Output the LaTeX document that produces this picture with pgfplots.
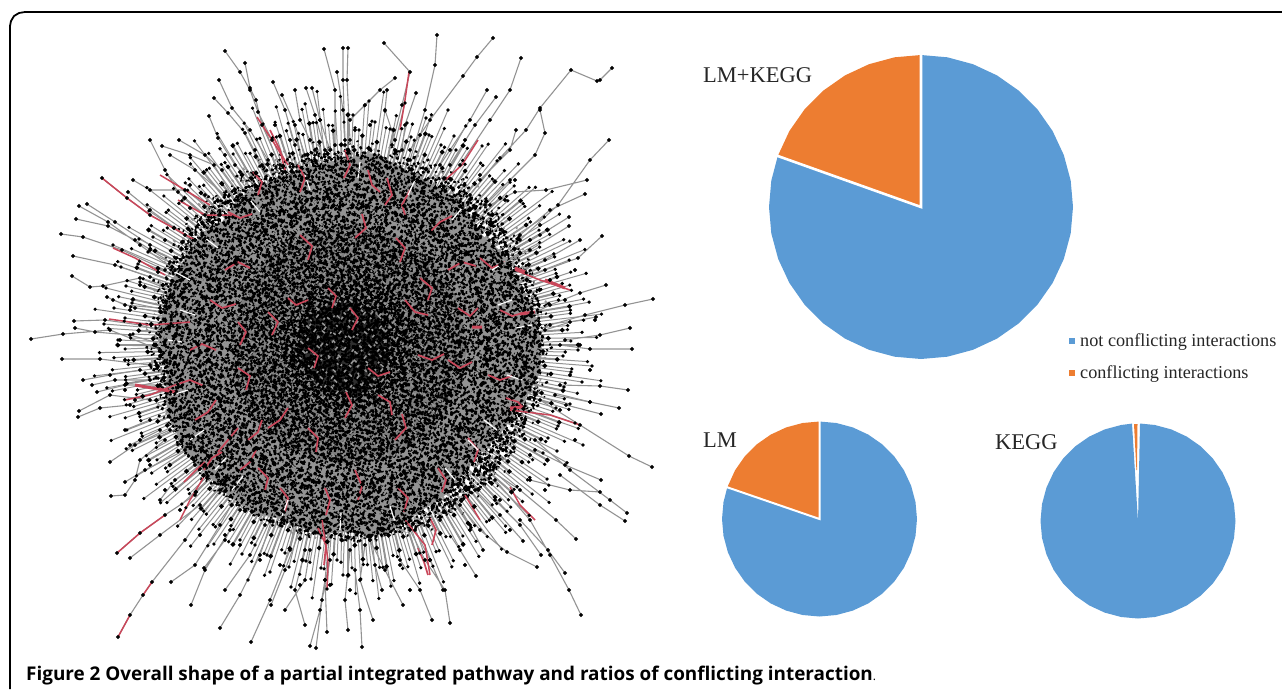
\documentclass[border=0pt]{standalone}
\usepackage{fontspec}
\setmainfont{Liberation Serif}
\newfontfamily\capfont{Open Sans}
\usepackage{pgfplots}
\usepackage{pgfplotstable}
\pgfplotsset{compat=1.18}
\definecolor{pieblue}{HTML}{5B9BD5}
\definecolor{pieorange}{HTML}{ED7D31}
\definecolor{edgegray}{HTML}{939393}
\definecolor{edgered}{HTML}{C9475A}
% one table of short strokes, laid down again turned about the middle of the network
\newcommand\spin[3]{\addplot[#1] table[x expr={348+(\thisrow{x}-348)*cos(#2)-(\thisrow{y}-345)*sin(#2)}, y expr={345+(\thisrow{x}-348)*sin(#2)+(\thisrow{y}-345)*cos(#2)}] {#3};}
\pgfplotsset{
	spike/.style={edgegray, line width=1.9pt, mark=*, mark size=1.2pt, mark options={black, solid}},
	thin spike/.style={edgegray, line width=1pt, mark=*, mark size=1.1pt, mark options={black, solid}}
}
% rows across the whole body
\pgfplotstableread[row sep=\\]{x y\\
287 160\\418 166\\nan nan\\256 172\\434 168\\nan nan\\263 180\\447 175\\nan nan\\236 182\\458 186\\nan nan\\233 188\\468 194\\nan nan\\210 200\\476 196\\nan nan\\224 208\\484 203\\nan nan\\206 210\\491 214\\nan nan\\191 216\\497 222\\nan nan\\201 228\\502 224\\nan nan\\184 236\\508 231\\nan nan\\199 238\\512 242\\nan nan\\170 244\\517 250\\nan nan\\178 256\\521 252\\nan nan\\183 264\\524 259\\nan nan\\164 266\\527 270\\nan nan\\174 272\\530 278\\nan nan\\151 284\\533 280\\nan nan\\174 292\\535 287\\nan nan\\159 294\\537 298\\nan nan\\151 300\\538 306\\nan nan\\162 312\\540 308\\nan nan\\171 320\\541 315\\nan nan\\151 322\\542 326\\nan nan\\163 328\\543 334\\nan nan\\142 340\\543 336\\nan nan\\157 348\\543 343\\nan nan\\162 350\\543 354\\nan nan\\147 356\\543 362\\nan nan\\168 368\\542 364\\nan nan\\153 376\\541 371\\nan nan\\161 378\\540 382\\nan nan\\148 384\\538 390\\nan nan\\171 396\\537 392\\nan nan\\162 404\\535 399\\nan nan\\155 406\\533 410\\nan nan\\173 412\\530 418\\nan nan\\165 424\\527 420\\nan nan\\187 432\\524 427\\nan nan\\166 434\\521 438\\nan nan\\182 440\\517 446\\nan nan\\195 452\\512 448\\nan nan\\183 460\\508 455\\nan nan\\202 462\\502 466\\nan nan\\187 468\\497 474\\nan nan\\218 480\\491 476\\nan nan\\212 488\\484 483\\nan nan\\213 490\\476 494\\nan nan\\234 496\\468 502\\nan nan\\254 508\\458 504\\nan nan\\246 516\\447 511\\nan nan\\272 518\\434 522\\nan nan\\267 524\\418 530\\
}\rowsA
% rows across the inner part
\pgfplotstableread[row sep=\\]{x y\\
314 233\\391 235\\nan nan\\284 240\\406 238\\nan nan\\293 247\\417 249\\nan nan\\268 254\\426 252\\nan nan\\267 261\\434 263\\nan nan\\246 268\\440 266\\nan nan\\263 275\\445 277\\nan nan\\247 282\\450 280\\nan nan\\234 289\\454 291\\nan nan\\245 296\\458 294\\nan nan\\232 303\\460 305\\nan nan\\248 310\\463 308\\nan nan\\222 317\\465 319\\nan nan\\233 324\\466 322\\nan nan\\240 331\\467 333\\nan nan\\223 338\\468 336\\nan nan\\236 345\\468 347\\nan nan\\216 352\\468 350\\nan nan\\242 359\\467 361\\nan nan\\230 366\\466 364\\nan nan\\224 373\\465 375\\nan nan\\239 380\\463 378\\nan nan\\252 387\\460 389\\nan nan\\235 394\\458 392\\nan nan\\252 401\\454 403\\nan nan\\235 408\\450 406\\nan nan\\255 415\\445 417\\nan nan\\265 422\\440 420\\nan nan\\256 429\\434 431\\nan nan\\284 436\\426 434\\nan nan\\277 443\\417 445\\nan nan\\295 450\\406 448\\nan nan\\295 457\\391 459\\
}\rowsB
% rows across the core
\pgfplotstableread[row sep=\\]{x y\\
332 285\\373 286\\nan nan\\307 290\\383 289\\nan nan\\320 295\\390 296\\nan nan\\299 300\\395 299\\nan nan\\302 305\\399 306\\nan nan\\283 310\\403 309\\nan nan\\302 315\\406 316\\nan nan\\289 320\\408 319\\nan nan\\278 325\\410 326\\nan nan\\292 330\\411 329\\nan nan\\280 335\\412 336\\nan nan\\298 340\\413 339\\nan nan\\274 345\\413 346\\nan nan\\286 350\\413 349\\nan nan\\295 355\\412 356\\nan nan\\280 360\\411 359\\nan nan\\294 365\\410 366\\nan nan\\276 370\\408 369\\nan nan\\303 375\\406 376\\nan nan\\293 380\\403 379\\nan nan\\290 385\\399 386\\nan nan\\307 390\\395 389\\nan nan\\322 395\\390 396\\nan nan\\310 400\\383 399\\nan nan\\333 405\\373 406\\
}\rowsC
% spikes of the rim, the thick inner parts
\pgfplotstableread[row sep=\\]{x y\\
488 347\\553 349\\nan nan\\498 353\\538 355\\nan nan\\487.5 357\\530 361\\567 364\\nan nan\\497 363\\546 369\\nan nan\\486 367\\557 378\\nan nan\\495 374\\539 382\\nan nan\\484 376.5\\530 387\\567 396\\nan nan\\493 384\\546 398\\nan nan\\482 386\\532 401\\nan nan\\490 394\\551 415\\nan nan\\479 395\\535 417\\nan nan\\486 404\\525 420\\560 435\\nan nan\\475 404\\525 427\\nan nan\\482 413\\535 440\\nan nan\\470 413\\521 441\\
}\rim
% spikes of the rim, the thin outer parts
\pgfplotstableread[row sep=\\]{x y\\
520 348\\578 350\\nan nan\\520 354\\563 356\\nan nan\\540 362\\592 366\\nan nan\\525 366\\571 372\\nan nan\\525 373\\582 382\\nan nan\\520 378\\564 387\\nan nan\\530 387\\590 402\\nan nan\\525 393\\570 404\\nan nan\\515 396\\556 408\\nan nan\\525 406\\575 423\\nan nan\\515 409\\558 426\\nan nan\\525 420\\583 445\\nan nan\\510 420\\548 438\\nan nan\\515 430\\557 451\\nan nan\\505 433\\543 453\\
}\rimlong
\begin{document}
\begin{tikzpicture}
\useasboundingbox (0,0) rectangle (1282pt,689pt);
\begin{axis}[
	scale only axis, width=1282pt, height=689pt,
	xmin=0, xmax=1282, ymin=0, ymax=689,
	y dir=reverse, hide axis, unbounded coords=jump
]
% frame
\addplot[black, line width=1.8pt] coordinates {(10,689) (10,26) (11,21) (14,16) (19,13) (25,12) (1282,12)};

% network: dense body, a little darker toward the middle
\addplot[fill=edgegray, draw=none] coordinates {(345,158)(375,153)(410,172)(435,185)(460,200)(482,235)(505,255)(520,287)(537,320)(542,350)(540,373)(522,405)(500,434)(472,462)(450,492)(415,515)(385,535)(340,532)(317,535)(287,520)(255,514)(230,497)(206,474)(187,454)(170,420)(165,398)(167,373)(158,340)(162,312)(170,284)(177,270)(203,232)(222,222)(238,198)(272,180)(302,168)} -- cycle;
\addplot[fill=black!50, draw=none] coordinates {(350,225)(392,232)(432,258)(458,300)(468,345)(458,392)(432,432)(392,458)(350,465)(305,458)(265,432)(240,392)(230,345)(240,300)(265,258)(305,232)} -- cycle;
\addplot[fill=black!82, draw=none] coordinates {(345,300)(365,305)(382,320)(392,345)(385,370)(368,390)(345,398)(322,390)(305,372)(297,348)(305,322)(323,307)} -- cycle;

% rim spikes
\spin{thin spike}{0}{\rimlong}
\spin{thin spike}{15}{\rimlong}
\spin{thin spike}{30}{\rimlong}
\spin{thin spike}{45}{\rimlong}
\spin{thin spike}{60}{\rimlong}
\spin{thin spike}{75}{\rimlong}
\spin{thin spike}{90}{\rimlong}
\spin{thin spike}{105}{\rimlong}
\spin{thin spike}{120}{\rimlong}
\spin{thin spike}{135}{\rimlong}
\spin{thin spike}{150}{\rimlong}
\spin{thin spike}{165}{\rimlong}
\spin{thin spike}{180}{\rimlong}
\spin{thin spike}{195}{\rimlong}
\spin{thin spike}{210}{\rimlong}
\spin{thin spike}{225}{\rimlong}
\spin{thin spike}{240}{\rimlong}
\spin{thin spike}{255}{\rimlong}
\spin{thin spike}{270}{\rimlong}
\spin{thin spike}{285}{\rimlong}
\spin{thin spike}{300}{\rimlong}
\spin{thin spike}{315}{\rimlong}
\spin{thin spike}{330}{\rimlong}
\spin{thin spike}{345}{\rimlong}
\spin{spike}{7}{\rim}
\spin{spike}{37}{\rim}
\spin{spike}{67}{\rim}
\spin{spike}{97}{\rim}
\spin{spike}{127}{\rim}
\spin{spike}{157}{\rim}
\spin{spike}{187}{\rim}
\spin{spike}{217}{\rim}
\spin{spike}{247}{\rim}
\spin{spike}{277}{\rim}
\spin{spike}{307}{\rim}
\spin{spike}{337}{\rim}

% black specks, crossing in several directions
\spin{black, line width=2.6pt, dash pattern=on 2.5pt off 3pt on 1.5pt off 6pt on 3pt off 2pt on 2pt off 5pt on 1.5pt off 4pt}{17}{\rowsA}
\spin{black, line width=2.4pt, dash pattern=on 1.5pt off 5pt on 3pt off 3pt on 2pt off 2.5pt on 2.5pt off 6pt on 2pt off 3.5pt}{63}{\rowsA}
\spin{black, line width=2.6pt, dash pattern=on 2pt off 4pt on 3pt off 6pt on 1.5pt off 2.5pt on 2.5pt off 5pt}{108}{\rowsA}
\spin{black, line width=2.3pt, dash pattern=on 3pt off 2.5pt on 1.5pt off 7pt on 2pt off 3pt on 1.5pt off 4.5pt}{151}{\rowsA}
\spin{black, line width=2.4pt, dash pattern=on 1.5pt off 7pt on 2.5pt off 4pt on 2pt off 9pt on 3pt off 5pt}{206}{\rowsA}
\spin{black, line width=2.4pt, dash pattern=on 2pt off 6pt on 1.5pt off 4pt on 3pt off 7pt}{35}{\rowsB}
\spin{black, line width=2.4pt, dash pattern=on 3pt off 4pt on 2pt off 7pt on 1.5pt off 5pt}{85}{\rowsB}
\spin{black, line width=2.4pt, dash pattern=on 1.5pt off 3pt on 2.5pt off 6pt on 2pt off 4pt}{130}{\rowsB}
\spin{black, line width=2.3pt, dash pattern=on 2.5pt off 3pt on 2pt off 5pt on 3pt off 3pt}{5}{\rowsC}
\spin{black, line width=2.3pt, dash pattern=on 3pt off 2pt on 2pt off 4pt on 2.5pt off 3pt}{100}{\rowsC}

% gray flecks on top
\spin{black!42, line width=1.6pt, dash pattern=on 3pt off 9pt on 2pt off 14pt on 4pt off 11pt}{42}{\rowsA}
\spin{black!42, line width=1.6pt, dash pattern=on 2pt off 12pt on 4pt off 8pt on 3pt off 16pt}{128}{\rowsA}

% red strokes in the body
\addplot[edgered, line width=1.7pt] coordinates {
(270,130)(280,150)(285,170)(nan,nan) (253,172)(262,182)(258,195)(nan,nan) (228,212)(240,218)(252,214)(nan,nan) (298,165)(305,178)(300,192)(nan,nan)
(345,150)(350,165)(344,178)(nan,nan) (368,170)(372,185)(380,192)(nan,nan) (387,178)(392,195)(385,205)(nan,nan) (288,298)(296,305)(308,300)(nan,nan)
(268,312)(278,322)(272,335)(nan,nan) (238,322)(246,332)(240,345)(nan,nan) (238,368)(250,376)(246,390)(nan,nan) (268,428)(280,420)(288,408)(nan,nan)
(248,440)(258,432)(262,420)(nan,nan) (218,452)(228,440)(238,428)(nan,nan) (204,470)(212,458)(222,452)(nan,nan) (184,482)(196,470)(205,462)(nan,nan)
(410,190)(402,205)(405,215)(nan,nan) (396,238)(405,248)(400,262)(nan,nan) (420,278)(432,288)(428,300)(nan,nan) (405,300)(415,312)(428,315)(nan,nan)
(458,308)(470,316)(478,308)(nan,nan) (480,258)(492,268)(505,262)(nan,nan) (418,355)(432,360)(444,354)(nan,nan) (448,360)(460,368)(472,362)(nan,nan)
(488,375)(500,380)(512,376)(nan,nan) (506,398)(518,402)(525,410)(nan,nan) (468,438)(478,450)(474,462)(nan,nan) (438,468)(446,480)(442,492)(nan,nan)
(398,488)(408,498)(404,512)(nan,nan) (430,518)(436,530)(432,545)(nan,nan) (418,548)(424,562)(428,575)(nan,nan) (325,488)(330,500)(326,515)(nan,nan)
(318,528)(326,545)(324,565)(nan,nan) (280,488)(288,498)(285,512)(nan,nan) (258,468)(268,478)(265,490)(nan,nan) (308,428)(318,438)(316,452)(nan,nan)
(345,418)(352,405)(346,392)(nan,nan) (378,395)(390,402)(392,415)(nan,nan) (368,368)(378,376)(390,372)(nan,nan) (328,288)(336,296)(332,308)(nan,nan)
(350,308)(358,318)(352,330)(nan,nan) (308,348)(318,356)(314,368)(nan,nan) (210,300)(222,308)(236,304)(nan,nan) (190,350)(202,344)(216,350)(nan,nan)
(175,385)(190,380)(204,386)(nan,nan) (195,420)(208,412)(216,400)(nan,nan) (225,270)(238,262)(250,268)(nan,nan) (300,235)(312,246)(308,260)(nan,nan)
(355,238)(366,228)(362,214)(nan,nan) (430,232)(440,222)(452,216)(nan,nan) (448,270)(462,262)(476,266)(nan,nan) (500,310)(512,316)(526,312)(nan,nan)
(395,440)(406,428)(402,414)(nan,nan) (355,470)(362,486)(358,500)(nan,nan) (240,470)(250,462)(256,450)(nan,nan)
};

% white gaps between the rim's edges
\addplot[white, line width=1.2pt] coordinates {
(175,272)(190,280)(nan,nan) (168,340)(182,342)(nan,nan) (172,395)(188,390)(nan,nan) (190,440)(204,430)(nan,nan) (232,490)(243,476)(nan,nan) (282,516)(288,500)(nan,nan)
(340,530)(341,513)(nan,nan) (395,522)(390,506)(nan,nan) (455,480)(445,468)(nan,nan) (497,430)(484,420)(nan,nan) (522,380)(507,375)(nan,nan) (532,325)(516,328)(nan,nan)
(505,262)(492,270)(nan,nan) (463,207)(452,220)(nan,nan) (415,180)(408,195)(nan,nan) (360,162)(358,178)(nan,nan) (305,175)(310,190)(nan,nan) (250,200)(260,212)(nan,nan)
(205,238)(218,248)(nan,nan) (512,300)(498,305)(nan,nan) (478,450)(468,440)(nan,nan) (215,470)(226,458)(nan,nan) (180,310)(195,315)
};

% outer branches with their nodes
\addplot[edgegray, line width=1.1pt, mark=*, mark size=1.3pt, mark options={black, solid}] coordinates {
(225,51)(240,72)(250,90)(258,112)(272,140)(nan,nan)
(245,63)(250,88)(256,100)(262,125)(280,165)(nan,nan)
(219,80)(232,108)(250,130)(268,160)(nan,nan)
(214,98)(228,113)(245,133)(262,165)(nan,nan)
(209,116)(218,138)(235,165)(255,185)(nan,nan)
(150,140)(165,170)(178,192)(205,215)(nan,nan)
(179,140)(205,155)(222,170)(240,195)(nan,nan)
(162,146)(190,155)(214,165)(235,200)(nan,nan)
(170,155)(195,170)(225,195)(nan,nan)
(128,192)(150,210)(185,235)(205,255)(nan,nan)
(133,180)(150,190)(185,190)(220,215)(nan,nan)
(102,178)(127,198)(150,215)(195,240)(nan,nan)
(79,206)(108,222)(140,245)(175,270)(nan,nan)
(87,204)(115,222)(150,245)(nan,nan)
(76,219)(108,226)(135,240)(170,262)(nan,nan)
(61,234)(83,237)(122,250)(165,270)(nan,nan)
(73,256)(115,265)(150,277)(175,285)(nan,nan)
(72,276)(90,287)(103,286)(140,278)(170,290)(nan,nan)
(107,297)(125,305)(160,308)(nan,nan)
(113,300)(135,308)(165,312)(nan,nan)
(74,321)(105,320)(140,325)(175,335)(nan,nan)
(75,328)(95,332)(130,335)(165,345)(nan,nan)
(31,339)(63,334)(110,330)(160,350)(nan,nan)
(273,82)(285,110)(295,145)(nan,nan)
(282,95)(295,125)(305,155)(nan,nan)
(295,90)(300,120)(315,150)(nan,nan)
(306,88)(315,115)(325,150)(nan,nan)
(312,88)(320,120)(330,150)(nan,nan)
(324,49)(335,90)(335,145)(nan,nan)
(337,72)(343,110)(345,145)(nan,nan)
(343,48)(343,80)(345,140)(nan,nan)
(348,48)(347,80)(350,140)(nan,nan)
(384,43)(410,72)(402,105)(392,145)(nan,nan)
(437,35)(435,65)(425,110)(410,160)(nan,nan)
(493,38)(477,57)(463,76)(430,120)(410,150)(nan,nan)
(521,58)(510,90)(490,120)(460,165)(nan,nan)
(395,78)(380,90)(365,105)(350,120)(nan,nan)
(387,90)(385,110)(395,140)(nan,nan)
(416,93)(405,125)(402,150)(nan,nan)
(487,90)(470,120)(440,165)(nan,nan)
(496,97)(475,125)(450,165)(nan,nan)
(612,68)(600,80)(597,81)(571,70)(540,108)(526,130)(500,158)(470,195)(nan,nan)
(540,110)(545,133)(535,155)(510,180)(485,205)(nan,nan)
(516,130)(510,150)(480,180)(nan,nan)
(609,140)(590,160)(558,205)(520,240)(nan,nan)
(587,180)(546,190)(515,192)(490,205)(nan,nan)
(585,194)(550,210)(520,235)(nan,nan)
(602,236)(578,258)(545,270)(510,285)(nan,nan)
(569,217)(540,235)(505,255)(nan,nan)
(569,226)(530,250)(500,265)(nan,nan)
(580,240)(545,260)(510,275)(nan,nan)
(606,285)(580,293)(550,305)(530,315)(nan,nan)
(653,299)(625,305)(585,315)(550,325)(nan,nan)
(630,328)(600,335)(565,340)(nan,nan)
(596,317)(570,322)(545,330)(nan,nan)
(632,349)(590,349)(560,345)(nan,nan)
(628,390)(600,386)(560,385)(nan,nan)
(619,408)(590,402)(555,395)(nan,nan)
(652,467)(629,456)(580,425)(540,400)(nan,nan)
(601,414)(566,405)(535,395)(nan,nan)
(627,513)(610,500)(570,470)(535,440)(nan,nan)
(625,521)(600,505)(560,475)(nan,nan)
(601,480)(565,465)(535,450)(nan,nan)
(600,492)(570,490)(530,480)(nan,nan)
(576,539)(556,520)(520,490)(490,470)(nan,nan)
(581,615)(569,590)(550,555)(530,520)(495,480)(nan,nan)
(565,573)(548,550)(520,520)(nan,nan)
(537,567)(507,552)(480,530)(460,505)(nan,nan)
(541,555)(520,525)(495,500)(nan,nan)
(523,541)(500,515)(475,490)(nan,nan)
(483,550)(470,525)(455,500)(nan,nan)
(450,623)(445,590)(425,560)(410,530)(nan,nan)
(432,620)(420,590)(400,560)(nan,nan)
(443,590)(430,560)(415,530)(nan,nan)
(476,576)(460,550)(440,520)(nan,nan)
(403,605)(385,570)(370,540)(nan,nan)
(362,647)(360,610)(355,570)(nan,nan)
(348,630)(345,600)(350,550)(nan,nan)
(373,620)(360,580)(365,545)(nan,nan)
(382,590)(375,565)(370,540)(nan,nan)
(327,632)(325,580)(330,530)(nan,nan)
(316,648)(322,600)(330,560)(nan,nan)
(310,646)(320,610)(325,580)(nan,nan)
(305,625)(295,590)(305,550)(nan,nan)
(285,610)(305,580)(310,550)(nan,nan)
(251,642)(270,600)(290,550)(295,520)(nan,nan)
(220,628)(240,595)(260,555)(275,510)(nan,nan)
(271,605)(285,570)(300,530)(nan,nan)
(225,590)(250,555)(265,525)(nan,nan)
(191,605)(205,570)(230,530)(250,490)(nan,nan)
(204,568)(225,540)(240,510)(nan,nan)
(171,582)(195,565)(220,525)(240,490)(nan,nan)
(118,637)(130,615)(143,595)(152,582)(185,540)(220,490)(nan,nan)
(117,553)(140,533)(165,515)(195,495)(nan,nan)
(130,558)(160,535)(200,505)(nan,nan)
(111,496)(125,495)(135,480)(140,460)(165,440)(nan,nan)
(125,482)(145,470)(185,450)(nan,nan)
(110,462)(135,445)(170,430)(nan,nan)
(160,500)(175,480)(195,465)(nan,nan)
(79,411)(110,395)(150,400)(nan,nan)
(78,417)(100,408)(130,405)(nan,nan)
(62,359)(100,359)(150,365)(nan,nan)
(83,380)(110,375)(140,370)(nan,nan)
(92,385)(115,380)(150,380)(nan,nan)
(97,392)(125,385)(160,385)(nan,nan)
(125,430)(150,420)(nan,nan)
(130,445)(160,430)
};
% larger dots on the fringe
\addplot[only marks, mark=*, mark size=1.8pt, black] coordinates {
(176,258)(195,240)(158,272)(190,208)(240,172)(255,150)(290,140)(320,120)(355,130)(420,135)(450,150)(480,175)(505,200)(530,240)(550,280)(565,300)(580,345)(570,375)(560,410)(530,455)(500,500)(470,530)(430,560)(400,565)(350,590)(300,585)(260,560)(225,535)(180,510)(150,465)(135,400)(125,360)(130,310)(150,250)(205,195)(275,125)(310,140)(370,125)(395,150)(465,140)(515,180)(540,225)(575,270)(595,320)(590,370)(575,440)(545,490)(510,530)(465,565)(410,590)(330,585)(280,565)(240,545)(200,535)(165,490)(140,440)(125,390)(120,340)(140,285)(165,240)(190,185)(225,155)
};
% conflicting interactions, outside the body
\addplot[edgered, line width=1.5pt] coordinates {
(102,178)(127,198)(150,215)(195,240)(nan,nan)
(257,117)(272,140)(288,165)(nan,nan)
(409,72)(405,100)(400,130)(nan,nan)
(478,140)(462,165)(445,180)(nan,nan)
(113,248)(135,258)(165,275)(nan,nan)
(160,175)(185,190)(210,205)(nan,nan)
(178,200)(205,215)(232,215)(nan,nan)
(109,319)(150,325)(190,322)(nan,nan)
(118,637)(130,615)(nan,nan)
(143,595)(152,582)(nan,nan)
(117,553)(140,533)(165,515)(nan,nan)
(180,520)(190,500)(205,475)(nan,nan)
(125,400)(150,395)(175,385)(nan,nan)
(327,590)(328,560)(322,520)(nan,nan)
(430,575)(425,545)(405,520)(nan,nan)
(510,487)(520,505)(535,520)(nan,nan)
(465,495)(480,520)(nan,nan)
(510,410)(550,415)(580,425)(nan,nan)
(515,270)(540,280)(570,290)
};
\addplot[edgered, line width=3pt] coordinates {(515,268)(525,272)(nan,nan)(545,280)(565,288)(nan,nan)(510,408)(525,407)(nan,nan)(135,385)(175,392)(nan,nan)(520,314)(535,312)(nan,nan)(472,327)(482,327)};

% pies
\addplot[fill=pieblue, draw=none] coordinates {(921,207)(921,55)(947.4,57.3)(973,64.2)(997,75.4)(1018.7,90.6)(1037.4,109.3)(1052.6,131)(1063.8,155)(1070.7,180.6)(1073,207)(1070.7,233.4)(1063.8,259)(1052.6,283)(1037.4,304.7)(1018.7,323.4)(997,338.6)(973,349.8)(947.4,356.7)(921,359)(894.6,356.7)(869,349.8)(845,338.6)(823.3,323.4)(804.6,304.7)(789.4,283)(778.2,259)(771.3,233.4)(769,207)(771.3,180.6)(777.8,156)} -- cycle;
\addplot[fill=pieorange, draw=none] coordinates {(921,207)(777.8,156)(789.4,131)(804.6,109.3)(823.3,90.6)(845,75.4)(869,64.2)(894.6,57.3)(921,55)} -- cycle;
\addplot[white, line width=2.6pt] coordinates {(775,155)(921,207)(921,53)};
\addplot[fill=pieblue, draw=none] coordinates {(819.5,519)(819.5,421.5)(836.4,423)(852.8,427.4)(868.3,434.6)(882.2,444.3)(894.2,456.3)(903.9,470.2)(911.1,485.7)(915.5,502.1)(917,519)(915.5,535.9)(911.1,552.3)(903.9,567.8)(894.2,581.7)(882.2,593.7)(868.3,603.4)(852.8,610.6)(836.4,615)(819.5,616.5)(802.6,615)(786.2,610.6)(770.7,603.4)(756.8,593.7)(744.8,581.7)(735.1,567.8)(727.9,552.3)(723.5,535.9)(722,519)(723.5,502.1)(727.3,487.3)} -- cycle;
\addplot[fill=pieorange, draw=none] coordinates {(819.5,519)(727.3,487.3)(735.1,470.2)(744.8,456.3)(756.8,444.3)(770.7,434.6)(786.2,427.4)(802.6,423)(819.5,421.5)} -- cycle;
\addplot[white, line width=2pt] coordinates {(725,486.5)(819.5,519)(819.5,419.5)};
\addplot[fill=pieblue, draw=none] coordinates {(1138,522)(1140,423.5)(1154.9,425)(1171.3,429.4)(1186.8,436.6)(1200.7,446.3)(1212.7,458.3)(1222.4,472.2)(1229.6,487.7)(1234,504.1)(1235.5,521)(1234,537.9)(1229.6,554.3)(1222.4,569.8)(1212.7,583.7)(1200.7,595.7)(1186.8,605.4)(1171.3,612.6)(1154.9,617)(1138,618.5)(1121.1,617)(1104.7,612.6)(1089.2,605.4)(1075.3,595.7)(1063.3,583.7)(1053.6,569.8)(1046.4,554.3)(1042,537.9)(1040.5,521)(1042,504.1)(1046.4,487.7)(1053.6,472.2)(1063.3,458.3)(1075.3,446.3)(1089.2,436.6)(1104.7,429.4)(1121.1,425)(1132,423.6)} -- cycle;
\addplot[fill=pieorange, draw=none] coordinates {(1134,424)(1137.5,424)(1137,470)(1136.4,470)} -- cycle;

% legend squares
\addplot[fill=pieblue, draw=none] coordinates {(1069.3,338)(1074.7,338)(1074.7,344)(1069.3,344)} -- cycle;
\addplot[fill=pieorange, draw=none] coordinates {(1069.3,370)(1074.7,370)(1074.7,376)(1069.3,376)} -- cycle;

\node[anchor=base west, inner sep=0pt, text=black!85, font=\fontsize{22.5}{24}\selectfont] at (axis cs:703,82) {LM+KEGG};
\node[anchor=base west, inner sep=0pt, text=black!85, font=\fontsize{22.5}{24}\selectfont] at (axis cs:703,447) {LM};
\node[anchor=base west, inner sep=0pt, text=black!85, font=\fontsize{22.5}{24}\selectfont] at (axis cs:995,449) {KEGG};
\node[anchor=base west, inner sep=0pt, text=black!85, font=\fontsize{18.2}{20}\selectfont] at (axis cs:1080,346) {not conflicting interactions};
\node[anchor=base west, inner sep=0pt, text=black!85, font=\fontsize{18.2}{20}\selectfont] at (axis cs:1080,378) {conflicting interactions};
\node[anchor=base west, inner sep=0pt, font=\fontsize{18.9}{22}\selectfont\capfont\bfseries] at (axis cs:26,680) {Figure 2 Overall shape of a partial integrated pathway and ratios of conflicting interaction{\fontsize{12}{12}\selectfont\mdseries .}};
\end{axis}
\end{tikzpicture}
\end{document}
